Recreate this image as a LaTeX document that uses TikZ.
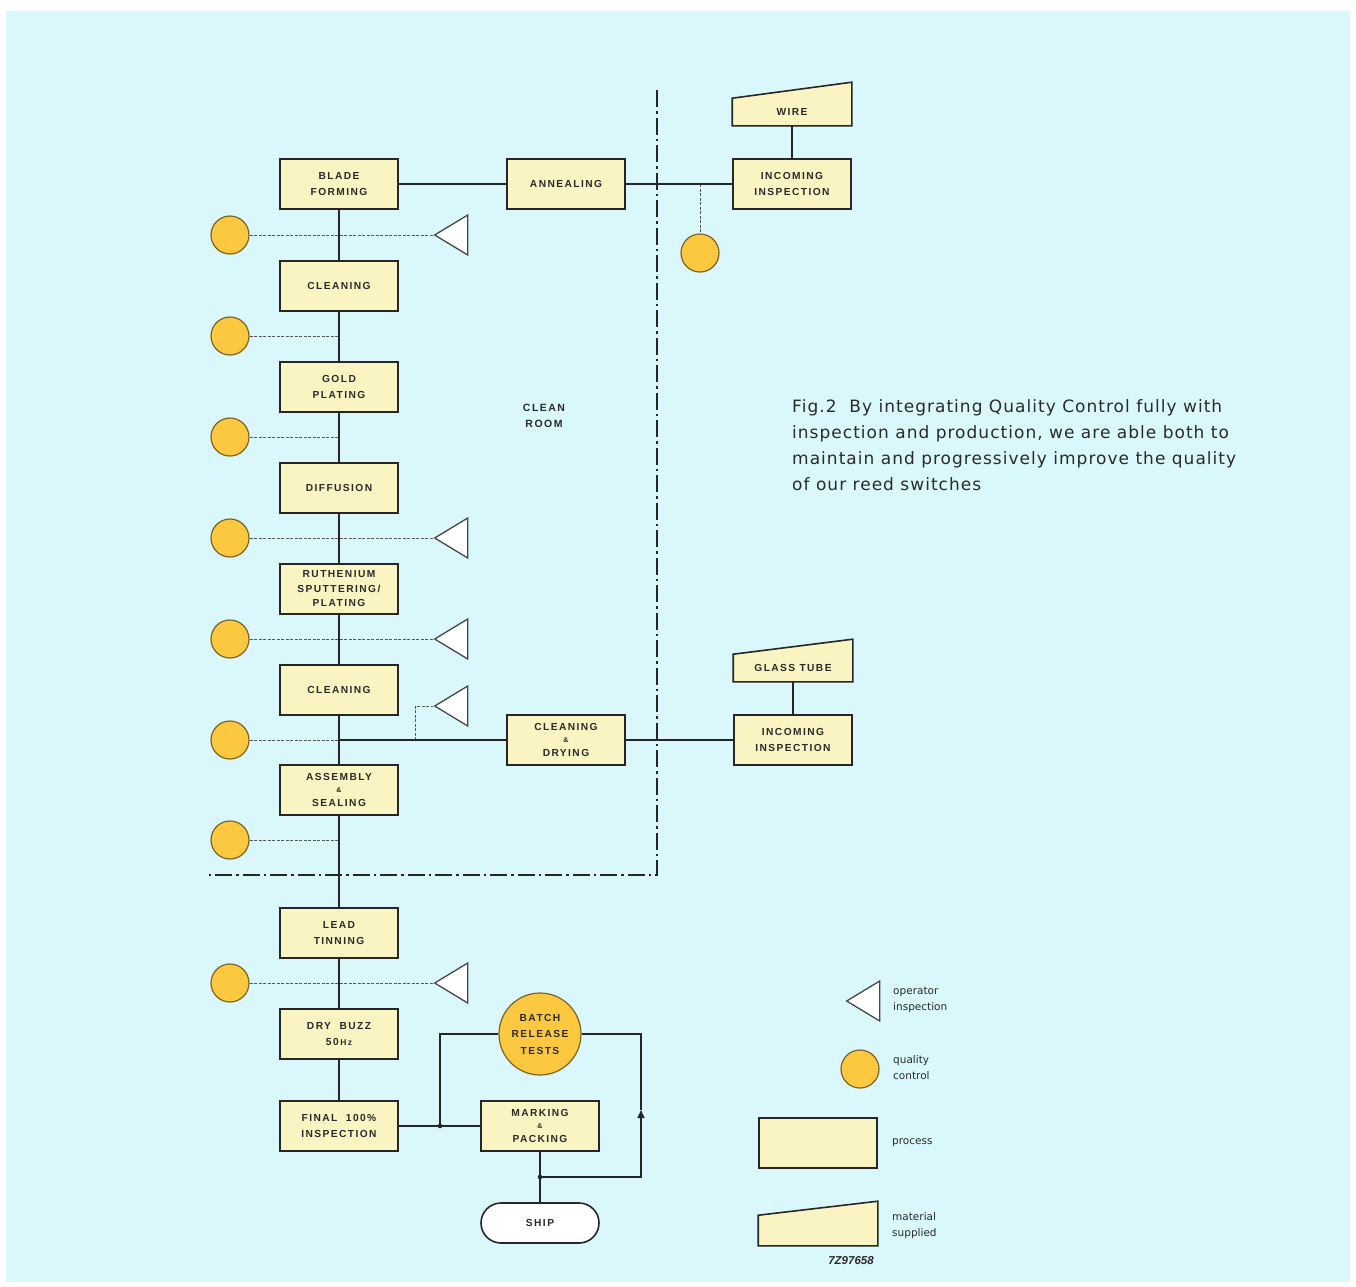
\documentclass[tikz,border=0pt]{standalone}
\usepackage{fontspec}
\setmainfont{Liberation Sans}
\newfontfamily\boxfont[LetterSpace=14]{Liberation Sans}
\newfontfamily\capfont[LetterSpace=6]{DejaVu Sans}
\newfontfamily\legfont{DejaVu Sans}
\usetikzlibrary{shapes.geometric,calc,arrows.meta,backgrounds}
\definecolor{bgc}{HTML}{DAF8FB}
\definecolor{procfill}{HTML}{FAF4C2}
\definecolor{qcfill}{HTML}{FCC840}
\definecolor{qcedge}{HTML}{7A6420}
\definecolor{ink}{HTML}{262626}
\definecolor{txt}{HTML}{2A2A2A}
\begin{document}
\begin{tikzpicture}[x=1pt,y=-1pt,
  proc/.style={draw=ink, line width=1.6pt, fill=procfill, minimum width=118pt, minimum height=50pt,
    inner sep=0pt, align=center, text=txt, font=\boxfont\bfseries\fontsize{10.2}{16.5}\selectfont},
  proc3/.style={proc, font=\boxfont\bfseries\fontsize{10.2}{14.5}\selectfont},
  matl/.style={draw=ink, line width=1.6pt, fill=procfill},
  qc/.style={circle, draw=qcedge, line width=1.2pt, fill=qcfill, minimum size=38pt, inner sep=0pt},
  opi/.style={isosceles triangle, isosceles triangle stretches, shape border rotate=180,
    draw=ink!85, line width=1.3pt, fill=white, minimum width=40pt, minimum height=33pt, inner sep=0pt},
  link/.style={draw=ink, line width=1.5pt},
  qline/.style={draw=gray!70!black, line width=1pt, dash pattern=on 3pt off 1.5pt},
  bound/.style={draw=ink, line width=1.7pt, dash pattern=on 17pt off 4pt on 2.5pt off 4pt},
  legtxt/.style={anchor=west, align=left, text=txt, inner sep=0pt, font=\legfont\fontsize{10.5}{16}\selectfont}
]
\useasboundingbox (0,0) rectangle (1356,1286);
\begin{scope}[on background layer]
  \fill[white] (0,0) rectangle (1356,1286);
  \fill[bgc] (6,11) rectangle (1350,1282);
\end{scope}

% main column
\node[proc] (bf) at (339,184) {BLADE\\FORMING};
\node[proc] (cl1) at (339,286) {CLEANING};
\node[proc] (gp) at (339,387) {GOLD\\PLATING};
\node[proc] (df) at (339,488) {DIFFUSION};
\node[proc3] (ru) at (339,589) {RUTHENIUM\\SPUTTERING\,/\\PLATING};
\node[proc] (cl2) at (339,690) {CLEANING};
\node[proc3] (as) at (339,790) {ASSEMBLY\\[-2.5pt]{\fontsize{7}{8}\selectfont\&}\\[-1pt]SEALING};
\node[proc] (lt) at (339,933) {LEAD\\TINNING};
\node[proc] (db) at (339,1034) {DRY\ \ BUZZ\\50\,{\fontsize{8.5}{10}\selectfont Hz}};
\node[proc] (fi) at (339,1126) {FINAL\ \ 100\%\\INSPECTION};
\node[proc3] (mp) at (540,1126) {MARKING\\[-2.5pt]{\fontsize{7}{8}\selectfont\&}\\[-1pt]PACKING};
\node[proc, fill=white, rounded corners=20pt, minimum height=40pt] (sh) at (540,1223) {SHIP};
\node[qc, minimum size=82pt, align=center, text=txt, font=\boxfont\bfseries\fontsize{10.2}{16.5}\selectfont] (br) at (540,1034) {BATCH\\RELEASE\\TESTS};

% top branch
\node[proc] (an) at (566,184) {ANNEALING};
\node[proc] (ii1) at (792,184) {INCOMING\\INSPECTION};
\node[proc, draw=none, fill=none, minimum height=26pt] (wi) at (792,112) {WIRE};
\begin{scope}[on background layer]
  \draw[matl] (wi.south west) -- (wi.south east) -- ($(wi.north east)+(0,-16)$) -- (wi.north west) -- cycle;
\end{scope}

% middle branch
\node[proc3] (cd) at (566,740) {CLEANING\\[-2.5pt]{\fontsize{7}{8}\selectfont\&}\\[-1pt]DRYING};
\node[proc] (ii2) at (793,740) {INCOMING\\INSPECTION};
\node[proc, draw=none, fill=none, minimum height=26pt] (gt) at (793,668) {GLASS TUBE};
\begin{scope}[on background layer]
  \draw[matl] (gt.south west) -- (gt.south east) -- ($(gt.north east)+(0,-15)$) -- (gt.north west) -- cycle;
\end{scope}

% quality control circles
\node[qc] (q1) at (230,235) {};
\node[qc] (q2) at (230,336) {};
\node[qc] (q3) at (230,437) {};
\node[qc] (q4) at (230,538) {};
\node[qc] (q5) at (230,639) {};
\node[qc] (q6) at (230,740) {};
\node[qc] (q7) at (230,840) {};
\node[qc] (q8) at (230,983) {};
\node[qc] (q9) at (700,253) {};

% operator inspection triangles
\node[opi, anchor=apex] (t1) at (433,235) {};
\node[opi, anchor=apex] (t4) at (433,538) {};
\node[opi, anchor=apex] (t5) at (433,639) {};
\node[opi, anchor=apex] (t6) at (433,706) {};
\node[opi, anchor=apex] (t8) at (433,983) {};

% clean-room boundary
\coordinate (b1) at (657,90);
\coordinate (b2) at (657,875);
\coordinate (b3) at (205,875);

% dashed inspection lines
\draw[qline] (q1) -- (t1.apex);
\draw[qline] (q2) -- (q2 -| cl1);
\draw[qline] (q3) -- (q3 -| gp);
\draw[qline] (q4) -- (t4.apex);
\draw[qline] (q5) -- (t5.apex);
\coordinate (j6) at (q6 -| cl2);
\draw[qline] (q6) -- (j6);
\coordinate (k6) at (415,740);
\draw[qline] (k6) -- (k6 |- t6.apex) -- (t6.apex);
\draw[qline] (q7) -- (q7 -| as);
\draw[qline] (q8) -- (t8.apex);
\coordinate (j9) at (q9 |- an);
\draw[qline] (j9) -- (q9);

% solid flow lines
\draw[link] (bf) -- (cl1);
\draw[link] (cl1) -- (gp);
\draw[link] (gp) -- (df);
\draw[link] (df) -- (ru);
\draw[link] (ru) -- (cl2);
\draw[link] (cl2) -- (as);
\draw[link] (as) -- (lt);
\draw[link] (lt) -- (db);
\draw[link] (db) -- (fi);
\draw[link] (bf) -- (an);
\draw[link] (an) -- (ii1);
\draw[link] (wi) -- (ii1);
\draw[link] (j6) -- (cd);
\draw[link] (cd) -- (ii2);
\draw[link] (gt) -- (ii2);

% boundary
\draw[bound] (b1) -- (b2) -- (b3);

% bottom loop
\coordinate (d1) at (440,1126);
\coordinate (d2) at (540,1177);
\coordinate (r1) at (641,1177);
\coordinate (r2) at (641,1034);
\coordinate (ra) at (641,1110);
\draw[link] (fi) -- (mp);
\draw[link] (d1) |- (br);
\draw[link] (mp) -- (sh);
\draw[link, -{Triangle[length=8pt,width=7pt]}] (d2) -- (r1) -- (ra);
\draw[link] (ra) -- (r2) -- (br);
\fill[ink] (d1) circle (2.3pt);
\fill[ink] (d2) circle (2.3pt);

% texts
\node[align=center, text=txt, font=\boxfont\bfseries\fontsize{10.5}{16}\selectfont] (clean) at (544,416) {CLEAN\\ROOM};
\node[anchor=north west, align=left, inner sep=0pt, text=txt, font=\capfont\fontsize{17}{26}\selectfont] (cap) at (792,399)
  {Fig.2\ \ By integrating Quality Control fully with\\inspection and production, we are able both to\\maintain and progressively improve the quality\\of our reed switches};

% legend
\node[opi, anchor=apex] (lt1) at (845,1001) {};
\node[legtxt] (lg1) at (893,1000) {operator\\inspection};
\node[qc] (lq) at (860,1069) {};
\node[legtxt] (lg2) at (893,1068) {quality\\control};
\node[proc] (lp) at (818,1143) {};
\node[legtxt] (lg3) at (892,1143) {process};
\node[proc, draw=none, fill=none, minimum height=29pt] (lm) at (818,1230.5) {};
\begin{scope}[on background layer]
  \draw[matl] (lm.south west) -- (lm.south east) -- ($(lm.north east)+(0,-14)$) -- (lm.north west) -- cycle;
\end{scope}
\node[legtxt] (lg4) at (892,1226) {material\\supplied};
\node[text=txt, inner sep=0pt, font=\bfseries\itshape\fontsize{11.5}{12}\selectfont] (code) at (851,1261) {7Z97658};
\end{tikzpicture}
\end{document}
